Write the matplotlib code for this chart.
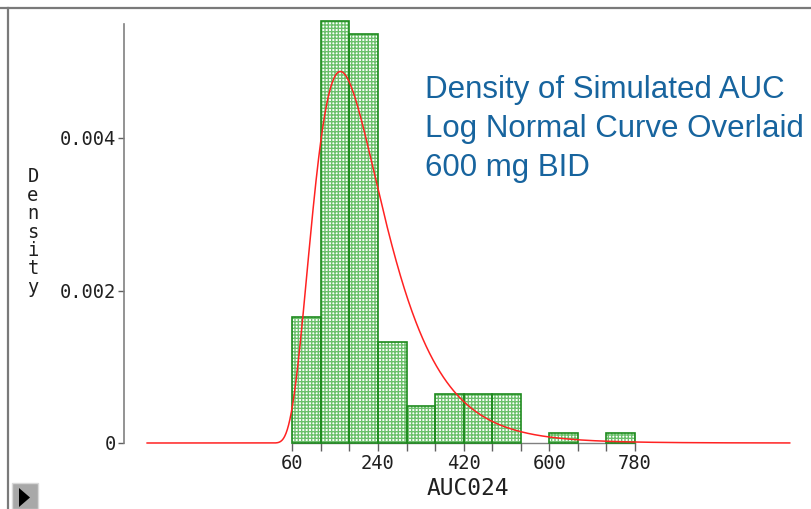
import numpy as np
import matplotlib
matplotlib.use("Agg")
import matplotlib.pyplot as plt
from matplotlib.patches import Rectangle, Polygon
from matplotlib.lines import Line2D

# histogram of simulated AUC0-24, bins of 60
bin_edges = [60, 120, 180, 240, 300, 360, 420, 480, 540, 600, 660, 720, 780]
densities = [0.00165, 0.00554, 0.00536, 0.00132, 0.00049, 0.00064,
             0.00064, 0.00064, 0.0, 0.000135, 0.0, 0.000135]

# fitted log normal overlay
lognorm_mu = 5.291
lognorm_sigma = 0.458
curve_start, curve_end = -245, 1105

x_ticks = [60, 120, 180, 240, 300, 360, 420, 480, 540, 600, 660, 720, 780]
x_ticklabels = ["60", "", "", "240", "", "", "420", "", "", "600", "", "", "780"]
y_ticks = [0, 0.002, 0.004]
y_ticklabels = ["0", "0.002", "0.004"]

title_lines = ["Density of Simulated AUC", "Log Normal Curve Overlaid", "600 mg BID"]

W, H = 811, 509
plt.rcParams["hatch.linewidth"] = 1.0
mono = "DejaVu Sans Mono"

fig = plt.figure(figsize=(W / 100, H / 100), dpi=100)
ax = fig.add_axes([124 / W, 66 / H, 687 / W, 421 / H])
ax.set_xlim(-293.6, 1149.7)
ax.set_ylim(0, 421 / 76250)

lefts = np.array(bin_edges[:-1])
widths = np.diff(bin_edges)
heights = np.array(densities)
keep = heights > 0

# dotted fill first, then the outlines on top
ax.bar(lefts[keep], heights[keep], width=widths[keep], align="edge",
       facecolor="white", edgecolor="#6cc06c", hatch="+++++", linewidth=0,
       clip_on=False, zorder=2)
ax.bar(lefts[keep], heights[keep], width=widths[keep], align="edge",
       facecolor="none", edgecolor="#1e8a1e", linewidth=1.2,
       clip_on=False, zorder=3)

xs = np.linspace(curve_start, curve_end, 1500)
ys = np.zeros_like(xs)
pos = xs > 0
ys[pos] = np.exp(-(np.log(xs[pos]) - lognorm_mu) ** 2 / (2 * lognorm_sigma ** 2)) / (
    xs[pos] * lognorm_sigma * np.sqrt(2 * np.pi))
ax.plot(xs, ys, color="#ff2222", linewidth=1.1, zorder=4, clip_on=False)

for side in ["top", "right"]:
    ax.spines[side].set_visible(False)
ax.spines["left"].set_color("#808080")
ax.spines["left"].set_linewidth(1.2)
ax.spines["left"].set_bounds(0, 0.0055)
ax.spines["bottom"].set_color("#808080")
ax.spines["bottom"].set_linewidth(1.0)
ax.spines["bottom"].set_bounds(60, 780)

ax.set_xticks(x_ticks)
ax.set_xticklabels(x_ticklabels, fontfamily=mono, fontsize=13.5)
ax.set_yticks(y_ticks)
ax.set_yticklabels(y_ticklabels, fontfamily=mono, fontsize=13.5)
ax.tick_params(axis="x", direction="out", length=6, width=1.0, color="#606060",
               pad=2, labelcolor="#202020")
ax.tick_params(axis="y", direction="out", length=4, width=1.0, color="#606060",
               pad=2, labelcolor="#202020")
ax.set_xlabel("AUC024", fontfamily=mono, fontsize=16.5, color="#202020", labelpad=3)

# y label as stacked upright letters
fig.text(33 / W, 1 - 232 / H, "\n".join("Density"), fontfamily=mono, fontsize=13.5,
         color="#202020", ha="center", va="center", linespacing=0.96)

for i, line in enumerate(title_lines):
    fig.text(425 / W, 1 - (98 + 39 * i) / H, line, fontfamily="Liberation Sans",
             fontsize=22.5, color="#17649e", ha="left", va="baseline")

# window border and the small expander button
fig.add_artist(Line2D([0, 1], [1 - 8 / H, 1 - 8 / H], transform=fig.transFigure,
                      color="#7a7a7a", linewidth=1.6))
fig.add_artist(Line2D([8 / W, 8 / W], [0, 1 - 8 / H], transform=fig.transFigure,
                      color="#7a7a7a", linewidth=1.6))
fig.add_artist(Rectangle((12 / W, 0), 26 / W, 26 / H, transform=fig.transFigure,
                         facecolor="#a8a8a8", edgecolor="#d8d8d8", linewidth=1.0))
fig.add_artist(Polygon([[19 / W, 1 - 488 / H], [19 / W, 1 - 507 / H],
                        [30 / W, 1 - 497.5 / H]], closed=True,
                       transform=fig.transFigure, facecolor="black", edgecolor="none"))

fig.savefig("out.png", dpi=100)
